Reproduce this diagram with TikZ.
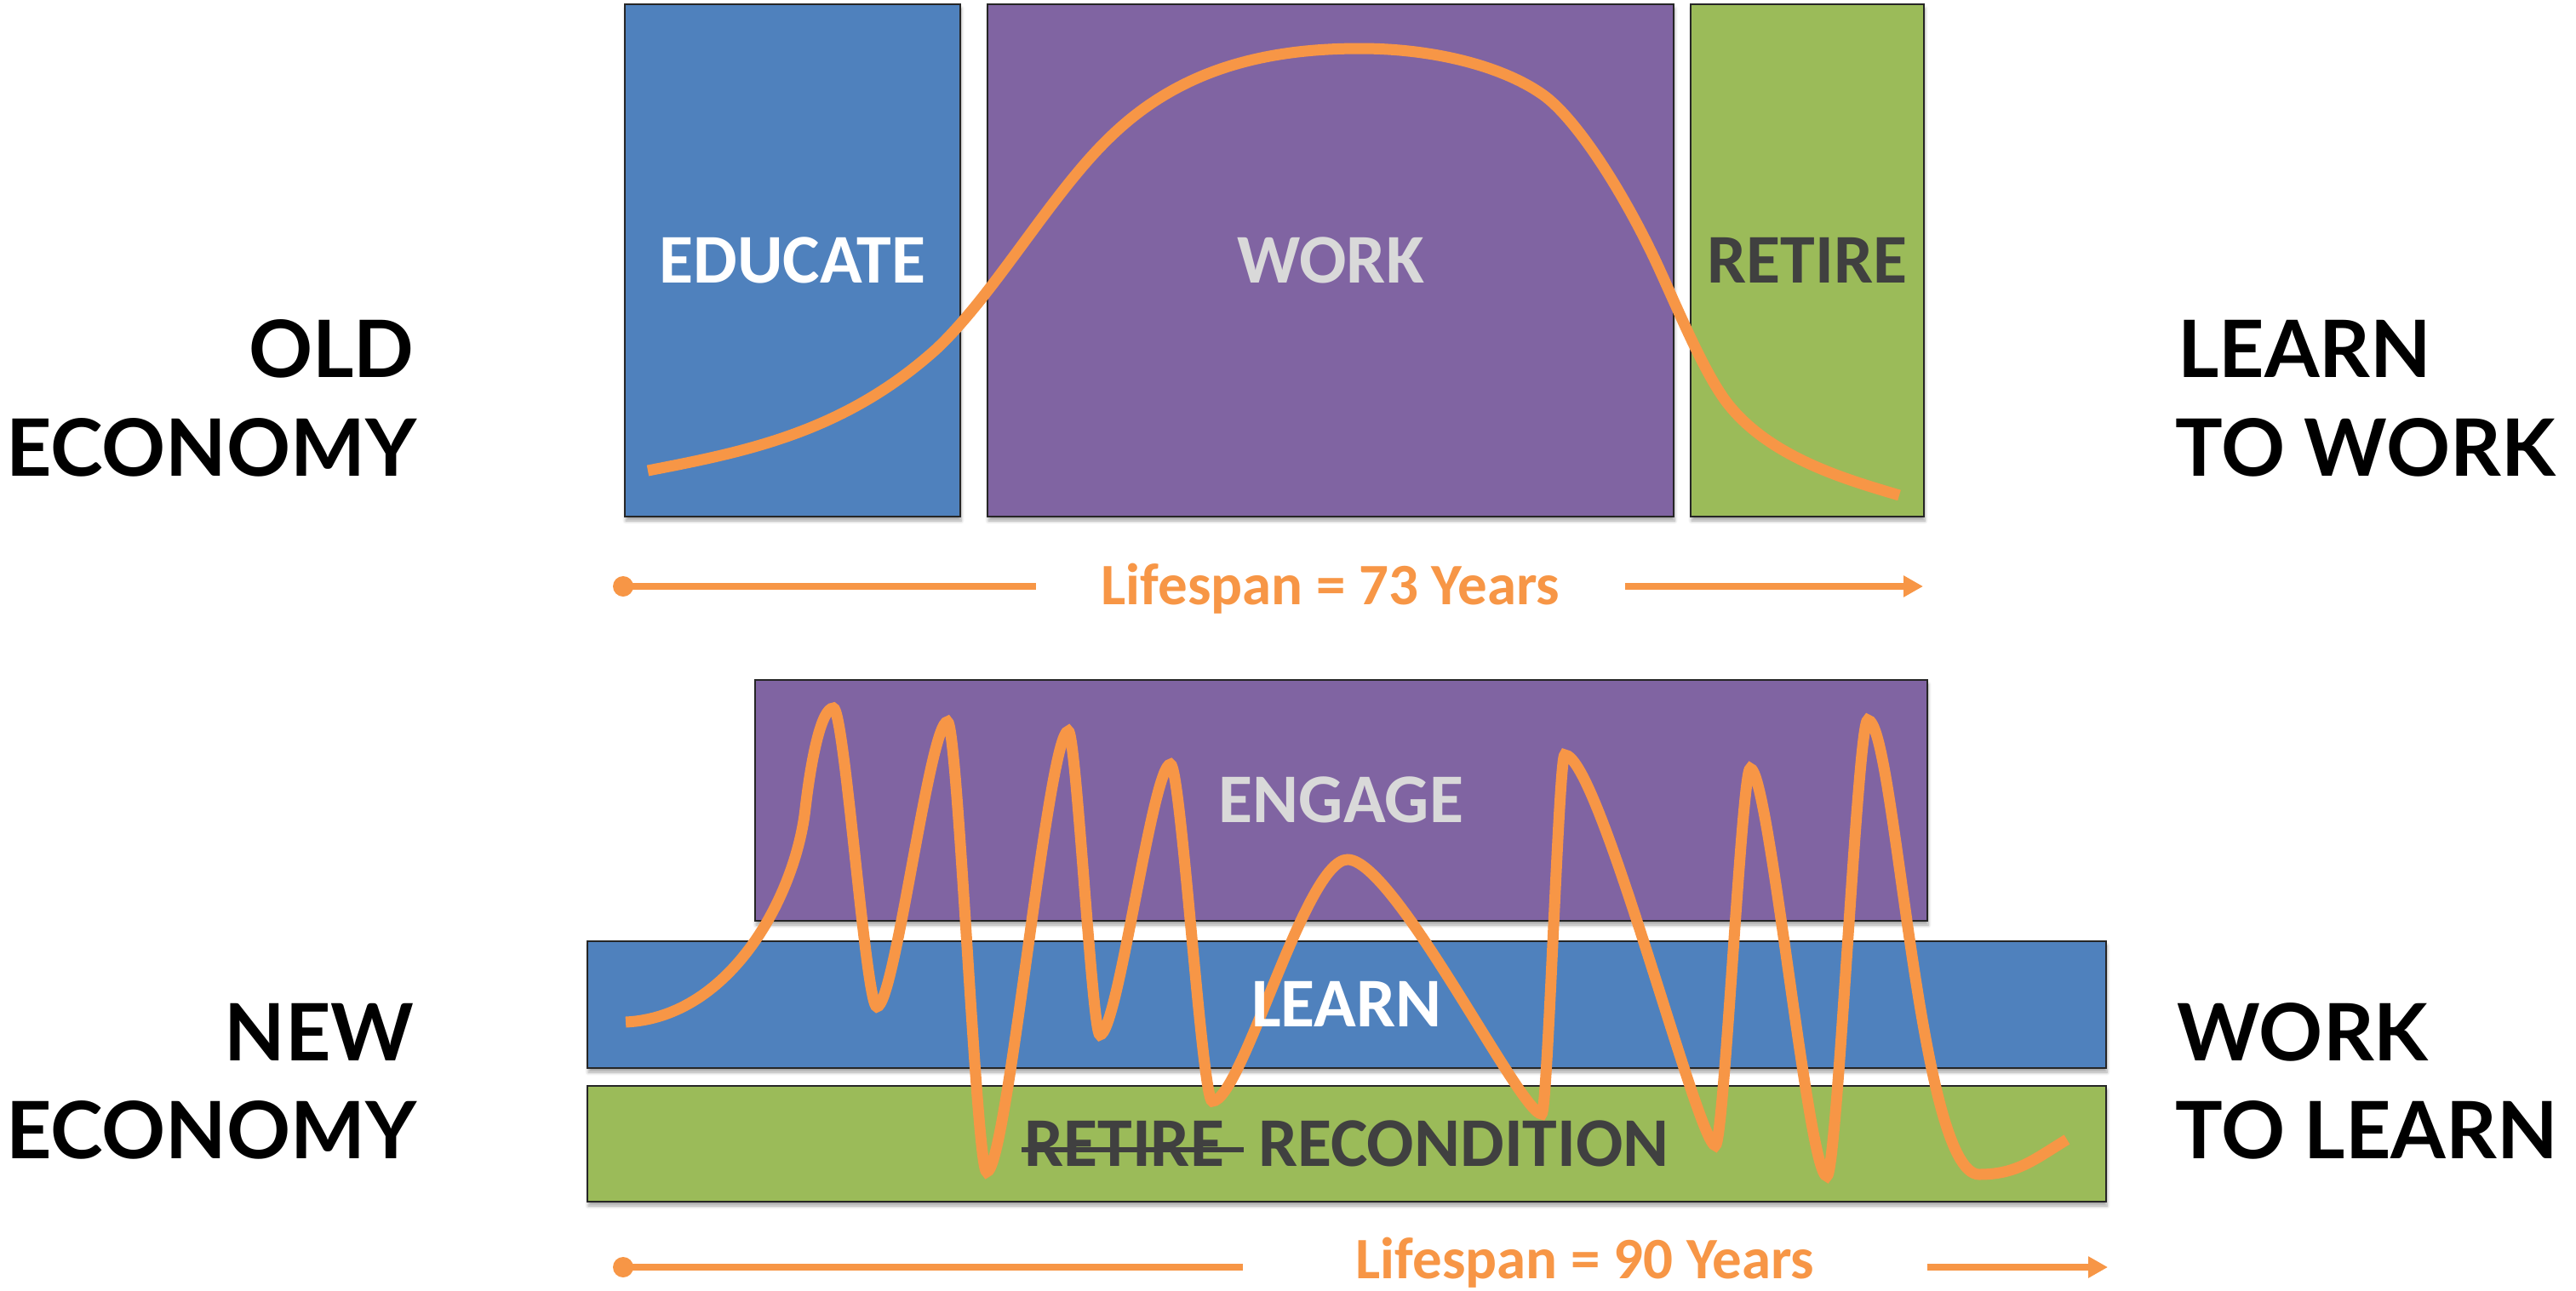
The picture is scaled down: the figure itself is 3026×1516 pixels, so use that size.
\documentclass[tikz,border=0pt]{standalone}
\usepackage{fontspec}
\setmainfont{Carlito}
\newfontfamily\sidefont{Lato}
\usetikzlibrary{arrows.meta,shadows.blur}
\definecolor{cblue}{HTML}{4F81BD}
\definecolor{cpurple}{HTML}{8064A2}
\definecolor{cgreen}{HTML}{9BBB59}
\definecolor{corange}{HTML}{F79646}
\definecolor{clight}{HTML}{D9D9D9}
\definecolor{cdark}{HTML}{404040}
\newsavebox\retbox
\begin{document}
\begin{tikzpicture}[x=0.5pt,y=-0.5pt,
  box/.style={draw=black!85, line width=1pt, inner sep=0pt, anchor=north west,
    blur shadow={shadow xshift=0.5pt, shadow yshift=-2.5pt, shadow blur steps=6, shadow opacity=35}},
  lbl/.style={font=\fontsize{41}{45}\bfseries\selectfont, inner sep=0pt, text height=26pt, text depth=0pt},
  side/.style={font=\sidefont\fontsize{46.5}{58}\bfseries\selectfont, inner sep=0pt},
  curve/.style={draw=corange, line width=6.5pt},
  span/.style={draw=corange, line width=4pt},
  lifetxt/.style={font=\fontsize{34.5}{40}\bfseries\selectfont, text=corange, text height=22pt, text depth=0pt, inner ysep=0pt},
  dot/.style={circle, fill=corange, minimum size=12pt, inner sep=0pt}]
\useasboundingbox (0,0) rectangle (3026,1516);

% top boxes
\node[box, fill=cblue, minimum width=197pt, minimum height=301pt] (educate) at (733,4) {};
\node[box, fill=cpurple, minimum width=403pt, minimum height=301pt] (work) at (1159,4) {};
\node[box, fill=cgreen, minimum width=137pt, minimum height=301pt] (retire) at (1985,4) {};

% top curve
\draw[curve] (761,553) .. controls (874,531) and (990,509) .. (1100,410)
  .. controls (1167,347) and (1233,231) .. (1300,165)
  .. controls (1380,85) and (1478,57) .. (1598,57)
  .. controls (1680,57) and (1762,76) .. (1812,111)
  .. controls (1852,139) and (1910,230) .. (1950,318)
  .. controls (1975,373) and (2002,437) .. (2027,471)
  .. controls (2077,538) and (2171,564) .. (2231,582);

\node[lbl, text=white] (educatet) at (educate.center) {EDUCATE};
\node[lbl, text=clight] (workt) at (work.center) {WORK};
\node[lbl, text=cdark] (retiret) at (retire.center) {RETIRE};

% top span
\node[dot] (s1) at (732,689) {};
\node[lifetxt, inner xsep=38pt] (life1) at (1563,688) {Lifespan = 73 Years};
\coordinate (e1) at (2259,689);
\draw[span] (s1.center) -- (s1.center -| life1.west);
\draw[span, -{Triangle[length=11.5pt,width=12pt]}] (e1 -| life1.east) -- (e1);

% bottom boxes
\node[box, fill=cpurple, minimum width=688.5pt, minimum height=141.5pt] (engage) at (886,798) {};
\node[box, fill=cblue, minimum width=892pt, minimum height=74.5pt] (learn) at (689,1105) {};
\node[box, fill=cgreen, minimum width=892pt, minimum height=68pt] (recond) at (689,1275) {};

% bottom curve
\draw[curve] (735,1201) .. controls (860,1195) and (935,1050) .. (946,950)
  .. controls (953,890) and (965,832) .. (979,832)
  .. controls (992,832) and (1017,1183) .. (1030,1183)
  .. controls (1051,1183) and (1092,848) .. (1113,848)
  .. controls (1125,848) and (1147,1377) .. (1159,1377)
  .. controls (1183,1377) and (1231,859) .. (1255,859)
  .. controls (1264,859) and (1283,1216) .. (1292,1216)
  .. controls (1313,1216) and (1354,898) .. (1375,898)
  .. controls (1387,898) and (1412,1294) .. (1424,1294)
  .. controls (1459,1294) and (1533,1010) .. (1583,1010)
  .. controls (1638,1010) and (1786,1309) .. (1811,1309)
  .. controls (1818,1309) and (1831,887) .. (1838,887)
  .. controls (1878,887) and (1995,1346) .. (2015,1346)
  .. controls (2025,1346) and (2046,903) .. (2056,903)
  .. controls (2078,903) and (2124,1382) .. (2146,1382)
  .. controls (2158,1382) and (2182,846) .. (2194,846)
  .. controls (2226,846) and (2253,1380) .. (2325,1380)
  .. controls (2370,1380) and (2390,1362) .. (2428,1339);

\node[lbl, text=clight] (engaget) at (engage.center) {ENGAGE};
\node[lbl, text=white] (learnt) at (learn.center) {LEARN};
\node[lbl, text=cdark] (recondt) at (recond.center) {\sbox\retbox{RETIRE}\rlap{\kern-1.5pt\rule[8pt]{\dimexpr\wd\retbox+13pt\relax}{3.2pt}}\usebox\retbox\hspace{20pt}RECONDITION};

% bottom span
\node[dot] (s2) at (732,1489) {};
\node[lifetxt, inner xsep=66pt] (life2) at (1862,1480) {Lifespan = 90 Years};
\coordinate (e2) at (2476,1489);
\draw[span] (s2.center) -- (s2.center -| life2.west);
\draw[span, -{Triangle[length=11.5pt,width=12pt]}] (e2 -| life2.east) -- (e2);

% side labels
\node[side, anchor=base east] (old1) at (487,443) {OLD};
\node[side, anchor=base east] (old2) at (490,559) {ECONOMY};
\node[side, anchor=base west] (ltw1) at (2558,443) {LEARN};
\node[side, anchor=base west] (ltw2) at (2555,559) {TO WORK};
\node[side, anchor=base east] (new1) at (487,1246) {NEW};
\node[side, anchor=base east] (new2) at (490,1361) {ECONOMY};
\node[side, anchor=base west] (wtl1) at (2557,1246) {WORK};
\node[side, anchor=base west] (wtl2) at (2555,1361) {TO LEARN};
\end{tikzpicture}
\end{document}
